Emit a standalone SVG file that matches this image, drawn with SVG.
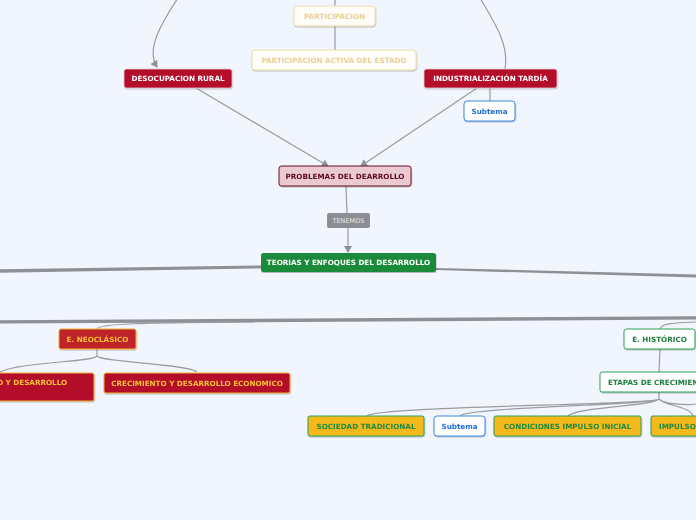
<svg xmlns="http://www.w3.org/2000/svg" width="696" height="520" viewBox="0 0 696 520">
<defs>
<filter id="sh" x="-10%" y="-20%" width="120%" height="160%"><feDropShadow dx="0.5" dy="1" stdDeviation="0.7" flood-color="#000" flood-opacity="0.25"/></filter>
<marker id="ar" markerWidth="8" markerHeight="8" refX="6" refY="4" orient="auto" markerUnits="userSpaceOnUse"><path d="M0,0 L7,4 L0,8 Z" fill="#8e9098"/></marker>
</defs>
<style>
text{font-family:"DejaVu Sans",Verdana,sans-serif;font-size:7.2px;font-weight:bold;text-anchor:middle;dominant-baseline:central}
.c{fill:none;stroke:#9a9ca4;stroke-width:1.2}
.pale rect{fill:#fffdf7;stroke:#f0dcaa;stroke-width:1}
.pale text{fill:#ebcf94}
.red rect{fill:#b30b2a;stroke:#e8d0d4;stroke-width:0.8}
.red text{fill:#ffffff}
.sub rect{fill:#ffffff;stroke:#3b88e0;stroke-width:1}
.sub text{fill:#1f6fd2}
.ny rect{fill:#b30b2a;stroke:#f2b233;stroke-width:1}
.ny text{fill:#f7c234}
.gw rect{fill:#ffffff;stroke:#2aa055;stroke-width:1}
.gw text{fill:#1b7d3c}
.gold rect{fill:#f5b91e;stroke:#2aa055;stroke-width:1}
.gold text{fill:#1e8a40}
</style>
<rect width="696" height="520" fill="#f1f5fe"/>
<g id="connectors">
<path class="c" d="M178,-2 C160,25 146,50 157,67" marker-end="url(#ar)"/>
<path class="c" d="M480,-2 C496,25 509,45 505,69"/>
<path class="c" d="M335,0 V6 M335,26 V50"/>
<path class="c" d="M196,88 L328,166" marker-end="url(#ar)"/>
<path class="c" d="M477,88 L361,166" marker-end="url(#ar)"/>
<path class="c" d="M490,88 V101"/>
<path class="c" d="M346,186 L347,213"/>
<path class="c" d="M348,228 L348,252" marker-end="url(#ar)"/>
<path d="M261,265.5 L0,269.2 L0,272.8 L261,268.5 Z" fill="#8e9098"/>
<path d="M436,268 L696,274.5 L696,277.5 L436,270 Z" fill="#8e9098"/>
<path d="M0,320.3 L696,316.2 L696,319.6 L0,323.6 Z" fill="#8e9098"/>
<path class="c" d="M255,322 C180,323 100,322 97,329" stroke-width="1"/>
<path class="c" d="M696,322 C675,323 661,323 660,329" stroke-width="1"/>
<path class="c" d="M97,349 V356 C95,362 20,362 0,372 M97,356 C99,362 190,364 197,372"/>
<path class="c" d="M660,349 L659,372"/>
<path class="c" d="M659,392 V399 C655,405 375,406 367,416 M659,399 C655,405 468,407 460,416 M659,399 C655,406 575,407 568,416 M659,399 C665,406 690,406 693,416 M659,399 C665,405 690,405 696,404"/>
</g>
<g id="participacion" class="pale" filter="url(#sh)"><rect x="294" y="6" width="81" height="20" rx="3"/><text x="334.5" y="16.5">PARTICIPACION</text></g>
<g id="participacion-activa" class="pale" filter="url(#sh)"><rect x="252" y="50" width="164" height="20" rx="3"/><text x="334" y="60.5">PARTICIPACIÓN ACTIVA DEL ESTADO</text></g>
<g id="desocupacion" class="red" filter="url(#sh)"><rect x="124" y="69" width="108" height="19" rx="2.5"/><text x="178" y="78.5">DESOCUPACION RURAL</text></g>
<g id="industrializacion" class="red" filter="url(#sh)"><rect x="424" y="69" width="133" height="19" rx="2.5"/><text x="490.5" y="78.5">INDUSTRIALIZACIÓN TARDÍA</text></g>
<g id="subtema1" class="sub" filter="url(#sh)"><rect x="464" y="101" width="51" height="20" rx="3"/><text x="489.5" y="111.5">Subtema</text></g>
<g id="problemas" filter="url(#sh)"><rect x="279" y="166" width="132" height="20" rx="2.5" fill="#ebc9d0" stroke="#6b1024" stroke-width="1"/><text x="345" y="176.5" fill="#5a0c1e">PROBLEMAS DEL DEARROLLO</text></g>
<g id="tenemos"><rect x="327" y="213" width="43" height="15" rx="2" fill="#8c8e95"/><text x="348.5" y="220.5" fill="#e6e6e8" style="font-weight:normal;font-size:6.5px">TENEMOS</text></g>
<g id="teorias" filter="url(#sh)"><rect x="261" y="253" width="175" height="19" rx="2.5" fill="#1b8a3a"/><text x="348.5" y="262.5" fill="#ffffff">TEORIAS Y ENFOQUES DEL DESARROLLO</text></g>
<g id="neoclasico" filter="url(#sh)"><rect x="59" y="329" width="77" height="20" rx="2" fill="#c0202a" stroke="#f2b233" stroke-width="1"/><text x="97.5" y="339.5" fill="#f7c234">E. NEOCLÁSICO</text></g>
<g id="desarrollo-izq" class="ny" filter="url(#sh)"><rect x="-10" y="373" width="104" height="28" rx="2"/><text x="-3" y="382" style="text-anchor:start">O Y DESARROLLO</text></g>
<g id="crecimiento" class="ny" filter="url(#sh)"><rect x="104" y="373" width="186" height="20" rx="2"/><text x="197" y="383">CRECIMIENTO Y DESARROLLO ECONOMICO</text></g>
<g id="historico" class="gw" filter="url(#sh)"><rect x="624" y="329" width="71" height="20" rx="2.5"/><text x="659.5" y="339.5">E. HISTÓRICO</text></g>
<g id="etapas" class="gw" filter="url(#sh)"><rect x="600" y="372" width="110" height="20" rx="2.5"/><text x="608" y="382.5" style="text-anchor:start">ETAPAS DE CRECIMIENTO</text></g>
<g id="sociedad" class="gold" filter="url(#sh)"><rect x="308" y="416" width="116" height="20" rx="2"/><text x="366" y="426.5">SOCIEDAD TRADICIONAL</text></g>
<g id="subtema2" class="sub" filter="url(#sh)"><rect x="434" y="416" width="51" height="20" rx="3"/><text x="459.5" y="426.5">Subtema</text></g>
<g id="condiciones" class="gold" filter="url(#sh)"><rect x="494" y="416" width="147" height="20" rx="2"/><text x="567.5" y="426.5">CONDICIONES IMPULSO INICIAL</text></g>
<g id="impulso" class="gold" filter="url(#sh)"><rect x="651" y="416" width="60" height="20" rx="2"/><text x="659" y="426.5" style="text-anchor:start">IMPULSO</text></g>
</svg>
